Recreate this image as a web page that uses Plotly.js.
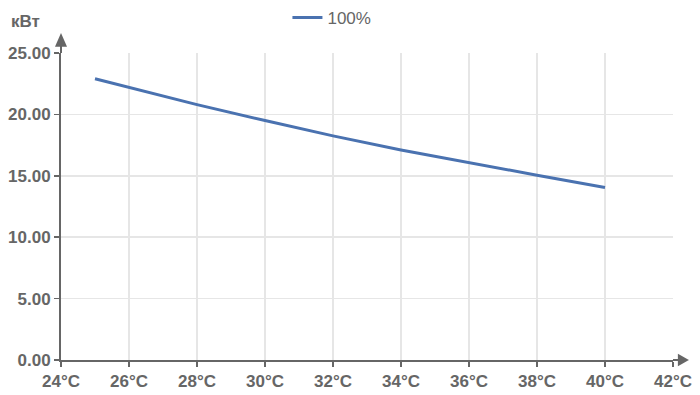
<!DOCTYPE html>
<html><head><meta charset="utf-8">
<script src="https://cdn.plot.ly/plotly-3.0.1.min.js"></script>
<style>html,body{margin:0;padding:0;background:#fff}</style>
</head><body>
<div id="chart" style="width:700px;height:395px"></div>
<script>
const temps = [25, 26, 28, 30, 32, 34, 36, 38, 40];
const power = [22.9, 22.2, 20.8, 19.5, 18.25, 17.1, 16.05, 15.05, 14.05];
const seriesName = '100%';
const xTickVals = [24, 26, 28, 30, 32, 34, 36, 38, 40, 42];
const xTickText = xTickVals.map(v => v + '°C');
const yTickVals = [0, 5, 10, 15, 20, 25];
const yTickText = yTickVals.map(v => v.toFixed(2));
const yUnit = 'кВт';

const axisColor = '#666666';
const tickFont = {family: 'Liberation Sans, Arial, sans-serif', size: 17, color: '#666666', weight: 'bold'};

const data = [{
  x: temps, y: power, name: seriesName, type: 'scatter', mode: 'lines',
  line: {color: '#4a72b0', width: 3}
}];

const layout = {
  width: 700, height: 395,
  margin: {l: 61, r: 27, t: 53, b: 35, autoexpand: false},
  paper_bgcolor: '#fff', plot_bgcolor: '#fff',
  showlegend: true,
  legend: {orientation: 'h', x: 0.37, xanchor: 'left', yref: 'container', y: 1, yanchor: 'top',
    font: {family: 'Liberation Sans, Arial, sans-serif', size: 17, color: '#666'}},
  xaxis: {range: [24, 42], tickvals: xTickVals, ticktext: xTickText,
    showgrid: true, gridcolor: '#e6e6e6', gridwidth: 1.5,
    zeroline: false, showline: true, linecolor: axisColor, linewidth: 2,
    ticks: 'outside', ticklen: 5, tickcolor: axisColor, tickwidth: 1.5,
    tickfont: tickFont, fixedrange: true, automargin: false},
  yaxis: {range: [0, 25], tickvals: yTickVals, ticktext: yTickText,
    showgrid: true, gridcolor: '#e6e6e6', gridwidth: 1.5,
    zeroline: false, showline: true, linecolor: axisColor, linewidth: 2,
    ticks: 'outside', ticklen: 5, tickcolor: axisColor, tickwidth: 1.5,
    tickfont: tickFont, fixedrange: true, automargin: false},
  shapes: [
    {type: 'line', xref: 'paper', yref: 'paper', x0: 0, x1: 0, y0: 1, y1: 1.03,
      line: {color: axisColor, width: 2}},
    {type: 'path', xref: 'paper', yref: 'paper',
      path: 'M -0.0098 1.02 L 0 1.065 L 0.0098 1.02 Z', fillcolor: axisColor, line: {width: 0}},
    {type: 'line', xref: 'paper', yref: 'paper', x0: 1, x1: 1.015, y0: 0, y1: 0,
      line: {color: axisColor, width: 2}},
    {type: 'path', xref: 'paper', yref: 'paper',
      path: 'M 1.008 -0.02 L 1.026 0 L 1.008 0.02 Z', fillcolor: axisColor, line: {width: 0}}
  ],
  annotations: [
    {text: yUnit, xref: 'paper', yref: 'paper', x: -0.085, y: 1.104, xanchor: 'left', yanchor: 'middle',
      showarrow: false, font: {family: 'Liberation Sans, Arial, sans-serif', size: 17, color: '#666', weight: 'bold'}}
  ]
};

Plotly.newPlot('chart', data, layout, {displayModeBar: false, staticPlot: true});
</script>
</body></html>
